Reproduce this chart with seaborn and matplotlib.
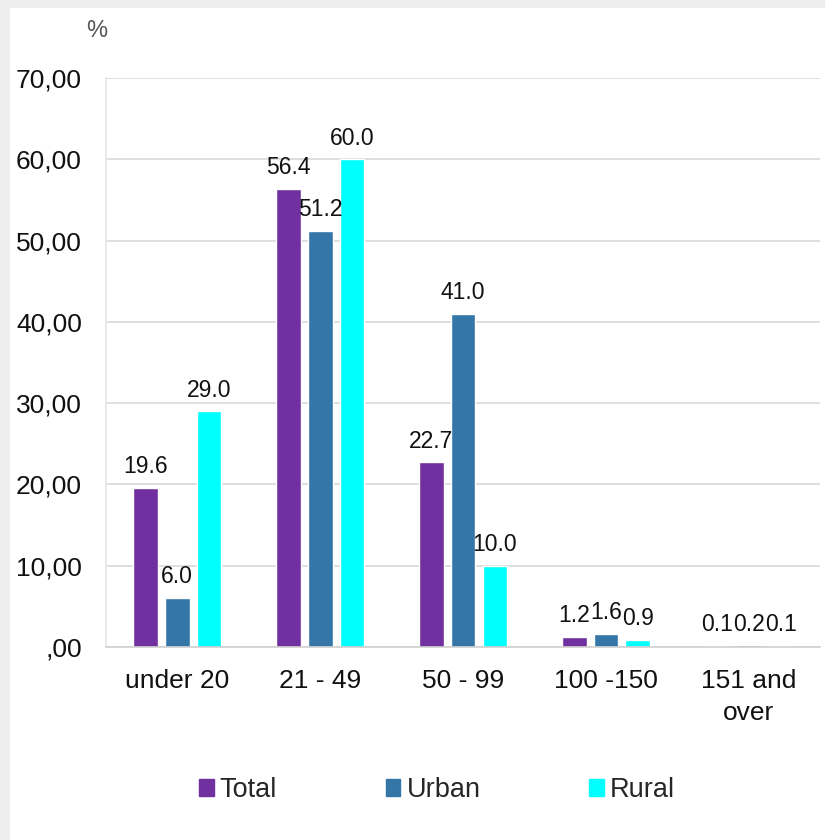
import pandas as pd
import numpy as np
import seaborn as sns
import matplotlib.pyplot as plt
from matplotlib.patches import Rectangle
from matplotlib.ticker import FuncFormatter

categories = ["under 20", "21 - 49", "50 - 99", "100 -150", "151 and\nover"]
total = [19.6, 56.4, 22.7, 1.2, 0.1]
urban = [6.0, 51.2, 41.0, 1.6, 0.2]
rural = [29.0, 60.0, 10.0, 0.9, 0.1]
series = ["Total", "Urban", "Rural"]

rows = []
for name, vals in zip(series, [total, urban, rural]):
    for c, v in zip(categories, vals):
        rows.append({"cat": c, "serie": name, "val": v})
df = pd.DataFrame(rows)

sns.set_theme(style="white")
plt.rcParams["font.family"] = ["Liberation Sans", "DejaVu Sans"]

cores = {"Total": "#7030A0", "Urban": "#3476A8", "Rural": "#00FFFF"}

fig = plt.figure(figsize=(8.25, 8.4), dpi=100, facecolor="#ededed")
fig.patches.append(Rectangle((10 / 825, 0), 1, 1 - 8 / 840, transform=fig.transFigure,
                             facecolor="white", edgecolor="none", zorder=-10))
ax = fig.add_axes([0.128, 0.2298, 0.8665, 0.6773])
ax.set_facecolor("none")

sns.barplot(data=df, x="cat", y="val", hue="serie", palette=cores, ax=ax,
            width=0.67, gap=0.22, saturation=1, legend=False)

for cont in ax.containers:
    ax.bar_label(cont, fmt="%.1f", padding=7, fontsize=16.5, color="#111111")

ax.set_ylim(0, 70)
ax.set_yticks(range(0, 71, 10))
ax.yaxis.set_major_formatter(FuncFormatter(
    lambda y, _: ",00" if y == 0 else f"{y:.2f}".replace(".", ",")))
ax.yaxis.grid(True, color="#d9d9d9", linewidth=1.2)
ax.set_axisbelow(True)
ax.tick_params(axis="both", labelsize=19, colors="#111111", length=0)
ax.tick_params(axis="x", pad=16)
ax.tick_params(axis="y", pad=17)
for lab in ax.get_xticklabels():
    lab.set_linespacing(1.4)
ax.set_xlabel("")
ax.set_ylabel("")
for s in ["top", "right"]:
    ax.spines[s].set_visible(False)
ax.spines["left"].set_color("#e6e6e6")
ax.spines["bottom"].set_color("#d0d0d0")
ax.spines["bottom"].set_linewidth(1.2)

fig.text(97 / 825, 1 - 31 / 840, "%", ha="center", va="center", fontsize=17, color="#595959")

handles = [Rectangle((0, 0), 1, 1, color=cores[s]) for s in series]
fig.legend(handles, series, loc="center", bbox_to_anchor=(0.5295, 1 - 790 / 840), ncol=3,
           frameon=False, fontsize=19.5, handlelength=0.55, handleheight=0.55,
           handletextpad=0.22, columnspacing=4.0)

plt.savefig("out.png", dpi=100, facecolor=fig.get_facecolor())
